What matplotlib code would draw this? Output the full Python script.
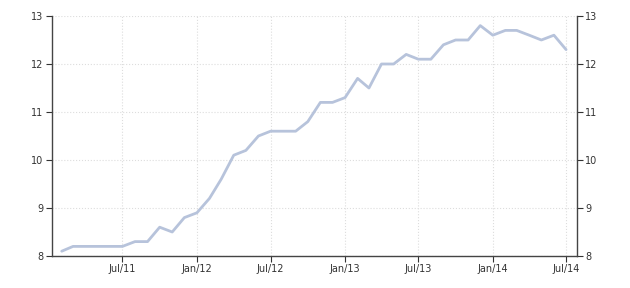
import pandas as pd
import matplotlib
matplotlib.use("Agg")
import matplotlib.pyplot as plt
import matplotlib.dates as mdates

# monthly values, Feb 2011 .. Jul 2014
months = pd.date_range("2011-02-01", "2014-07-01", freq="MS")
values = [
    8.1, 8.2, 8.2, 8.2, 8.2, 8.2, 8.3, 8.3, 8.6, 8.5, 8.8,
    8.9, 9.2, 9.6, 10.1, 10.2, 10.5, 10.6, 10.6, 10.6, 10.8, 11.2, 11.2,
    11.3, 11.7, 11.5, 12.0, 12.0, 12.2, 12.1, 12.1, 12.4, 12.5, 12.5, 12.8,
    12.6, 12.7, 12.7, 12.6, 12.5, 12.6, 12.3,
]
tick_dates = pd.to_datetime([
    "2011-07-01", "2012-01-01", "2012-07-01", "2013-01-01",
    "2013-07-01", "2014-01-01", "2014-07-01",
])
tick_labels = ["Jul/11", "Jan/12", "Jul/12", "Jan/13", "Jul/13", "Jan/14", "Jul/14"]
y_ticks = [8, 9, 10, 11, 12, 13]


def main() -> None:
    fig = plt.figure(figsize=(6.3, 2.88), dpi=100)
    ax = fig.add_axes([52 / 630, 1 - 256 / 288, (577 - 52) / 630, 240 / 288])

    ax.plot(months, values, color="#b7c3db", linewidth=2,
            solid_joinstyle="round", solid_capstyle="round")

    ax.set_ylim(8, 13)
    ax.set_xlim(pd.Timestamp("2011-01-08"), pd.Timestamp("2014-07-28"))
    ax.set_yticks(y_ticks)
    ax.set_xticks(tick_dates)
    ax.set_xticklabels(tick_labels)

    ax.grid(True, color="#dddddd", linestyle=":", linewidth=0.8)
    for side in ["left", "bottom", "right"]:
        ax.spines[side].set_color("#444444")
        ax.spines[side].set_linewidth(1.0)
    ax.spines["top"].set_visible(False)

    ax.tick_params(axis="both", labelsize=7, colors="#333333", length=4,
                   width=0.8, pad=2, direction="out")
    ax.tick_params(axis="y", right=True, labelright=True)

    fig.savefig("out.png", dpi=100)
    plt.close(fig)


if __name__ == "__main__":
    main()
